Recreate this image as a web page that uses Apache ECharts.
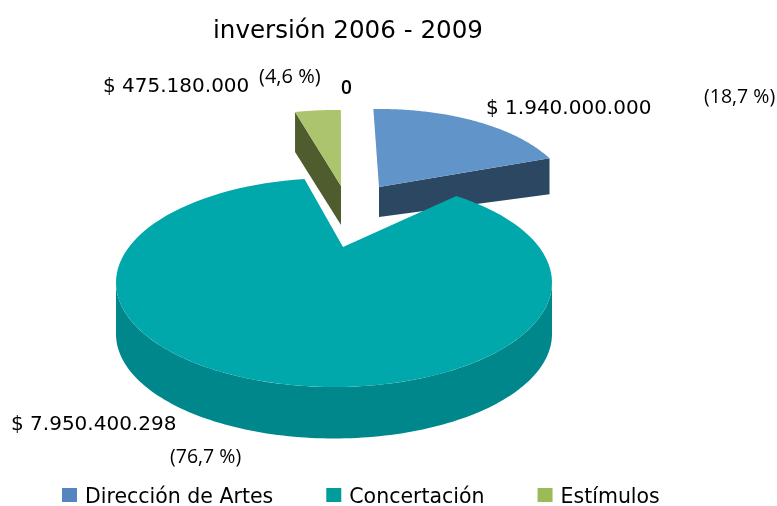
<!DOCTYPE html>
<html><head><meta charset="utf-8">
<style>html,body{margin:0;padding:0;background:#fff}#c{width:777px;height:506px}</style>
<script src="https://cdn.jsdelivr.net/npm/echarts@6/dist/echarts.min.js"></script>
</head><body><div id="c"></div>
<script>
const categories = ['Dirección de Artes', 'Concertación', 'Estímulos'];
const values = [1940000000, 7950400298, 475180000];
const amountLabels = ['$ 1.940.000.000', '$ 7.950.400.298', '$ 475.180.000'];
const percentLabels = ['(18,7 %)', '(76,7 %)', '(4,6 %)'];
const zeroLabel = '0';
const titleText = 'inversión 2006 - 2009';

// Projection of each (exploded) wedge: ellipse, apex, thickness, angle warp of the 3D view
const views = [
  {cx:380, cy:199, a:190, b:90, ax:379, ay:187, depth:32, a0:-2, k:0.967, top:'#6194C9', side:'#2B4761', legend:'#5585C0'},
  {cx:334, cy:282.5, a:218, b:104.5, ax:343, ay:247, depth:51.5, a0:-43.5, k:1.152, top:'#00A7AB', side:'#00878B', legend:'#009C9C'},
  {cx:335, cy:200, a:190, b:90, ax:341, ay:186, depth:39, a0:-301.7, k:0.843, top:'#ABC46D', side:'#4F5C2D', legend:'#9BBB59'}
];
const total = values.reduce((s, v) => s + v, 0);
const starts = values.map((_, i) => values.slice(0, i).reduce((s, v) => s + v, 0) / total * 360);

function pt(v, deg, dy) {
  const r = deg * Math.PI / 180;
  return [v.cx + v.a * Math.sin(r), v.cy - v.b * Math.cos(r) + (dy || 0)];
}
function arc(v, d0, d1, dy) {
  const n = 120, out = [];
  for (let i = 0; i <= n; i++) out.push(pt(v, d0 + (d1 - d0) * i / n, dy));
  return out;
}
function renderSlice(i) {
  return function () {
    const v = views[i];
    const s = v.a0 + v.k * starts[i];
    const e = v.a0 + v.k * (starts[i] + values[i] / total * 360);
    const children = [];
    const fill = (pts, c) => children.push({type:'polygon', shape:{points:pts}, style:{fill:c}});
    if (i === 1) {
      fill(arc(v, 90, 270, 0).concat(arc(v, 270, 90, v.depth)), v.side);
    } else if (i === 0) {
      const p = pt(v, e);
      fill([[v.ax, v.ay], p, [p[0], p[1] + v.depth + 4], [v.ax, v.ay + v.depth - 2]], v.side);
    } else {
      const p = pt(v, s);
      fill([p, [v.ax, v.ay], [v.ax, v.ay + v.depth], [p[0], p[1] + v.depth + 1]], v.side);
    }
    fill(arc(v, s, e).concat([[v.ax, v.ay]]), v.top);
    return {type:'group', children};
  };
}
const drawOrder = [2, 0, 1];
const sans = '"Open Sans"';
const wide = '"DejaVu Sans"';
const txt = (t, x, y, size, family, extra) => ({type:'text', left:x, top:y, silent:true,
  style:Object.assign({text:t, fontSize:size, fontFamily:family, fill:'#000'}, extra || {})});

const chart = echarts.init(document.getElementById('c'), null, {renderer:'canvas'});
chart.setOption({
  animation:false,
  backgroundColor:'#fff',
  legend:{
    left:62, top:487, padding:0, itemWidth:15, itemHeight:14, itemGap:53,
    icon:'rect', selectedMode:false,
    formatter:'{t|{name}}',
    textStyle:{fontFamily:wide, fontSize:20.5, color:'#000',
      rich:{t:{fontFamily:wide, fontSize:20.5, color:'#000', padding:[5,0,0,3]}}},
    data:categories.map((n, i) => ({name:n, itemStyle:{color:views[i].legend}}))
  },
  series:drawOrder.map(i => ({
    type:'custom', name:categories[i], coordinateSystem:'none', z:i === 1 ? 3 : 2,
    itemStyle:{color:views[i].legend},
    renderItem:renderSlice(i), data:[[values[i]]], silent:true
  })),
  graphic:[
    txt(titleText, 213, 19, 24.6, wide),
    txt(amountLabels[2], 103, 77, 20, wide),
    txt(percentLabels[2], 259, 67, 20, sans),
    txt(zeroLabel, 341, 79, 19, sans, {fontWeight:600}),
    txt(amountLabels[0], 486, 99, 20, wide),
    txt(percentLabels[0], 704, 87, 19.5, sans),
    txt(amountLabels[1], 11, 415, 20, wide),
    txt(percentLabels[1], 170, 447, 19.5, sans)
  ]
});
</script></body></html>
